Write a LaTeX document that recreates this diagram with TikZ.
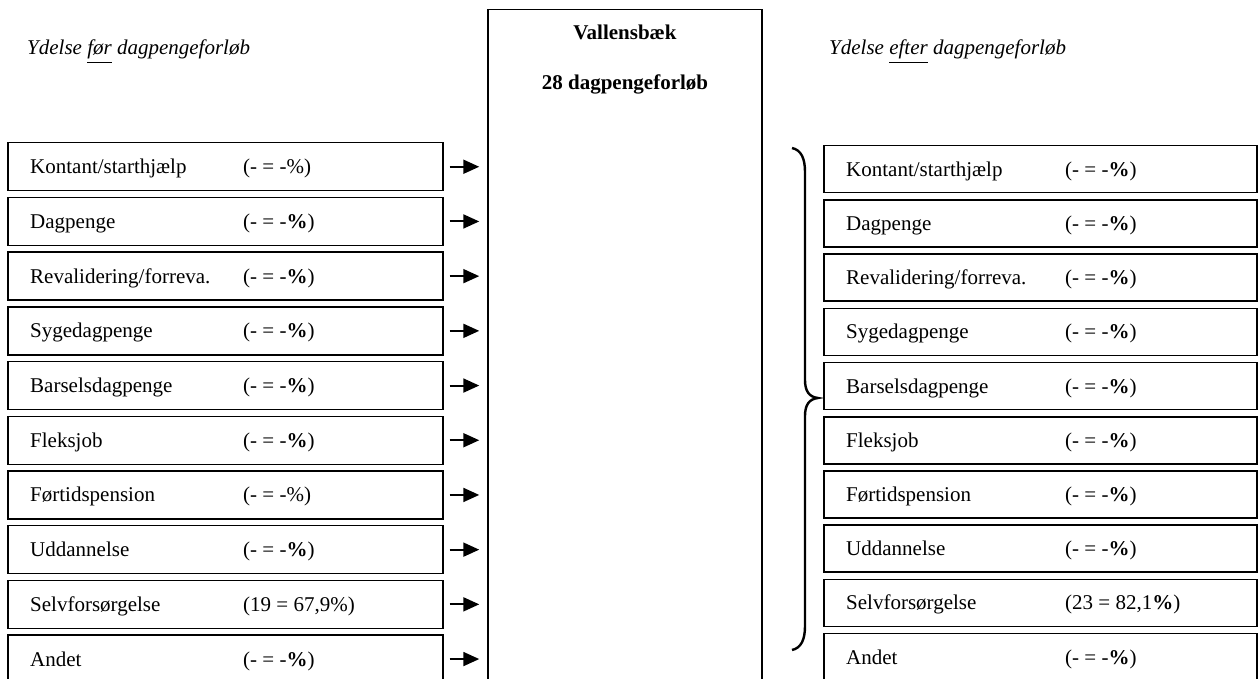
\documentclass[tikz,border=0pt]{standalone}
\usepackage{fontspec}
\setmainfont{Liberation Serif}
\newcommand\myul[1]{\leavevmode\vtop{\hbox{#1}\kern2.5pt\hrule height 1.2pt}}
\usetikzlibrary{arrows.meta}
\begin{document}
\begin{tikzpicture}[x=1pt,y=-1pt,font=\fontsize{21}{25}\selectfont,
  lbox/.style={draw,line width=1.5pt,rectangle,minimum width=435pt,minimum height=48pt,inner sep=0pt,anchor=north west},
  rbox/.style={draw,line width=1.5pt,rectangle,minimum width=433pt,minimum height=47pt,inner sep=0pt,anchor=north west},
  txt/.style={anchor=base west,inner sep=0pt},
  arr/.style={line width=2pt,-{Triangle[length=16pt,width=14pt]},shorten <=6pt,shorten >=8pt}]
\useasboundingbox (0,0) rectangle (1259,679);
\clip (0,0) rectangle (1259,679);
\node[draw,line width=1.5pt,minimum width=274pt,minimum height=720pt,anchor=north,inner sep=0pt] (C) at (625,9) {};
\node[anchor=base] (T1) at (625,40) {\bfseries Vallensbæk};
\node[anchor=base] (T2) at (625,90) {\bfseries 28 dagpengeforløb};
\node[anchor=base west,inner sep=0pt] (HL) at (27,55) {\itshape Ydelse \myul{før} dagpengeforløb};
\node[anchor=base west,inner sep=0pt] (HR) at (829,55) {\itshape Ydelse \myul{efter} dagpengeforløb};
\newcommand\yrow[4]{%
  \pgfmathsetmacro\lt{142+54.7*(#1-1)}%
  \pgfmathsetmacro\rt{145+54.2*(#1-1)}%
  \node[lbox] (L#1) at (7,\lt) {};
  \node[txt] (Ln#1) at ([xshift=23pt,yshift=-7pt]L#1.west) {#2};
  \node[txt] (Lv#1) at ([xshift=236pt,yshift=-7pt]L#1.west) {#3};
  \node[rbox] (R#1) at (823,\rt) {};
  \node[txt] (Rn#1) at ([xshift=23pt,yshift=-7pt]R#1.west) {#2};
  \node[txt] (Rv#1) at ([xshift=242pt,yshift=-7pt]R#1.west) {#4};
  \draw[arr] (L#1.east) -- (L#1.east -| C.west);
}
\yrow{1}{Kontant/starthjælp}{(- = -\%)}{(- = -\textbf{\%})}
\yrow{2}{Dagpenge}{(- = -\textbf{\%})}{(- = -\textbf{\%})}
\yrow{3}{Revalidering/forreva.}{(- = -\textbf{\%})}{(- = -\textbf{\%})}
\yrow{4}{Sygedagpenge}{(- = -\textbf{\%})}{(- = -\textbf{\%})}
\yrow{5}{Barselsdagpenge}{(- = -\textbf{\%})}{(- = -\textbf{\%})}
\yrow{6}{Fleksjob}{(- = -\textbf{\%})}{(- = -\textbf{\%})}
\yrow{7}{Førtidspension}{(- = -\%)}{(- = -\textbf{\%})}
\yrow{8}{Uddannelse}{(- = -\textbf{\%})}{(- = -\textbf{\%})}
\yrow{9}{Selvforsørgelse}{(19 = 67,9\%)}{(23 = 82,1\textbf{\%})}
\yrow{10}{Andet}{(- = -\textbf{\%})}{(- = -\textbf{\%})}
\draw[line width=2.4pt] (792,148) .. controls (801,150) and (805,158) .. (805,172) -- (805,380) .. controls (805,391) and (809,397) .. (818,398) .. controls (809,399) and (805,405) .. (805,416) -- (805,626) .. controls (805,640) and (801,648) .. (792,650);
\end{tikzpicture}
\end{document}
